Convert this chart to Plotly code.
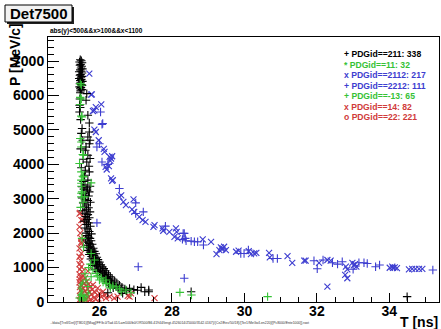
import plotly.graph_objects as go

# ---------------- data (T [ns], P [MeV/c]) ----------------
pip_T = [25.47,25.50,25.45,25.52,25.48,25.46,25.51,25.49,25.53,25.47,25.50,25.44,25.52,25.48,25.46,
         25.51,25.49,25.44,25.50,25.47,25.53,25.48,25.46,25.50,25.52,25.45,25.49,25.47,25.51,25.48,
         25.47,25.65,25.63,25.46,25.45,25.47,25.68,25.45,25.48,25.72,25.52,25.72,25.68,25.74,25.54,
         25.63,25.72,25.61,25.68,25.74,25.65,25.71,25.61,25.72,25.59,25.68,25.74,25.50,25.48,25.55,
         25.50,25.56,25.60,25.66,
         25.52,25.57,25.66,25.72,25.55,25.62,25.70,25.52,25.60,25.68,25.75,25.55,25.63,25.58,25.70,
         25.65,25.54,25.74,25.60,25.68,25.62,25.72,25.66,25.58,25.70,25.64,25.75,25.60,25.68,25.72,
         25.63,25.78,25.66,25.70,25.74,25.62,25.77,25.68,25.72,25.80,25.65,25.75,25.70,25.83,25.78,
         25.68,25.86,25.74,25.80,25.90,25.72,25.84,25.78,25.93,25.88,25.76,25.96,25.82,25.90,26.00,
         25.86,25.95,26.04,25.80,25.92,26.08,25.98,26.12,25.88,26.03,26.16,25.95,26.08,26.20,26.00,
         26.14,26.25,26.05,26.18,26.30,26.10,26.22,26.35,26.15,26.28,26.42,26.20,26.33,26.48,26.25,
         26.40,26.55,26.30,26.46,26.62,26.38,26.52,26.70,26.83,27.15,27.36,26.60,26.75,26.23,26.64,
         27.36,28.53,34.49,26.95,27.05,27.25]
pip_P = [7040,7010,6975,6950,6905,6880,6850,6800,6775,6745,6705,6690,6655,6610,6590,
         6555,6530,6495,6470,6435,6410,6385,6340,6320,6295,6250,6235,6195,6170,6135,
         6080,6055,5860,5900,5715,5650,5425,5520,5300,5200,5040,4940,4795,4700,4700,
         4505,4600,4410,4265,4170,4070,3945,3830,3780,3685,3540,3365,4900,4450,4150,
         3900,3500,3400,3320,
         3350,3280,3250,3200,3150,3100,3080,3020,2980,2950,2900,2880,2820,2760,2740,
         2680,2650,2620,2580,2540,2480,2450,2400,2350,2300,2250,2200,2150,2120,2050,
         2000,1980,1930,1880,1850,1800,1780,1740,1700,1680,1650,1620,1580,1560,1520,
         1500,1470,1450,1420,1400,1380,1350,1320,1300,1270,1250,1230,1200,1180,1160,
         1130,1100,1080,1060,1040,1020,990,970,950,930,910,890,870,850,830,
         810,790,770,750,730,710,690,670,650,630,610,590,570,550,530,
         510,490,470,450,430,410,395,380,395,425,350,350,330,270,250,
         300,300,155,360,340,300]

ele_T = [25.46,25.50,25.48,25.55,25.60,25.47,25.52,25.58,25.65,25.49,25.53,25.70]
ele_P = [80,160,240,120,60,400,320,200,150,500,560,260]

neu_T = [25.72,25.77,25.79,25.90,26.05,25.86,25.82,25.86,25.90,25.98,26.14,26.28,26.35,26.32,26.17,
         26.20,26.26,26.32,26.37,26.35,26.60,26.55,26.66,26.73,26.94,26.90,26.96,27.10,27.19,27.27,
         27.52,27.49,27.74,27.76,27.93,28.11,28.13,28.07,28.16,28.85,29.08,29.23,29.31,29.35,29.40,
         29.44,29.49,29.77,29.84,30.18,30.27,30.33,30.68,30.70,31.19,31.32,31.65,31.69,32.06,32.29,
         32.38,32.80,32.84,32.98,33.02,33.09,32.78,32.84,32.29,34.01,34.08,34.15,34.21,34.54,34.63,
         34.72,34.82,34.91,26.30,26.12,30.12,29.38,33.05,34.10]
neu_P = [6635,6025,6030,5665,5745,5570,5550,5010,4940,4700,4360,4215,4235,4170,3925,
         3850,3945,3590,3540,3520,3100,3055,2910,2815,2980,2690,2620,2475,2380,2330,
         2235,2185,2140,2070,2040,2140,2040,1895,1850,1820,1750,1390,1510,1585,1560,
         1605,1510,1460,1490,1390,1410,1430,1430,1295,1335,1140,1200,1200,1140,1220,
         1200,1025,950,1140,1065,1025,785,690,445,995,1025,1005,985,950,965,
         965,960,965,4100,4450,1480,1530,1100,990]

pro_T = [26.03,26.09,26.07,26.00,25.93,26.07,26.23,26.55,27.00,27.00,27.21,27.82,28.31,28.29,28.39,
         28.53,28.62,28.71,28.34,28.37,28.87,29.90,29.99,30.11,30.79,30.91,31.92,32.01,32.17,32.43,
         32.57,32.70,33.00,33.16,33.30,33.39,33.62,33.73,35.20,25.93,27.07,28.34]
pro_P = [5520,5185,5160,4600,4505,4070,4000,3300,2880,2570,2620,2205,1995,1820,1780,
         1770,1750,1750,1995,1850,1655,1410,1410,1510,1265,1265,1200,965,1220,1140,
         1100,1170,950,1140,1140,1120,1025,1075,930,2300,1025,690]

mup_T = [25.47,25.50,25.47,25.50,25.47,25.50,25.52,25.47,25.50,25.50,25.54,25.56,25.45,25.50,25.54,
         25.56,25.50,25.77,25.50,25.52,25.50,25.50,25.59,25.50,25.55,25.48,25.52,25.56,25.77,25.86,
         25.82,25.91,25.63,25.77,26.00,26.18,26.18,26.28,26.37,26.46,26.73,26.60,26.87,28.22,28.54,
         30.64,25.45,25.70,25.95,26.10,25.60,26.05,25.75,26.30,26.55,25.50,25.55,25.68]
mup_P = [6345,6300,5945,5900,5740,5400,5375,4750,4650,4505,4285,4265,4025,3780,3655,
         3635,3540,3460,3365,3200,3450,3160,3055,3055,2900,2750,1850,1600,1410,1220,
         930,830,640,735,640,640,540,495,465,445,350,300,270,280,205,
         155,115,1000,760,580,820,700,1100,410,380,200,60,450]

nu_T = [25.47,25.45,25.54,25.50,25.45,25.50,25.50,25.45,25.50,25.45,25.48,25.45,25.50,25.46,25.52,
        25.45,25.55,25.48,25.60,25.46,25.52,25.65,25.45,25.58,25.70,25.50,25.62,25.75,25.46,25.55,
        25.68,25.80,25.48,25.60,25.72,25.88,25.52,25.65,25.78,25.95,25.46,25.58,25.70,25.85,26.05,
        25.50,25.62,25.75,25.90,26.18,26.28,26.41,26.50,26.83,26.78,26.87,27.52,25.45,25.55,26.00,
        26.10,25.95,25.82,26.15,25.68,25.50,25.47]
nu_P = [2590,2570,2380,2380,2185,1750,1700,1555,1410,1315,1200,1100,1020,950,880,
        800,760,720,690,650,620,600,570,540,520,500,470,450,430,400,
        380,360,340,320,300,280,260,240,220,200,180,160,140,130,150,
        100,80,70,90,110,155,110,155,155,175,250,110,60,40,250,
        300,400,500,200,900,1850,2000]

gam_T = [25.45,25.48,25.52,25.56,25.60,25.66,25.72,25.80,25.90,26.00]
gam_P = [20,35,15,30,25,40,20,30,15,25]

legend_lines = ["+ PDGid==211: 338", "* PDGid==11: 32", "x PDGid==2112: 217",
                "+ PDGid==2212: 111", "+ PDGid==-13: 65", "x PDGid==14: 82", "o PDGid==22: 221"]

BLACK, GREEN, BLUE, RED = "#000000", "#35c235", "#3d3dd0", "#d03a3a"
legend_colors = [BLACK, GREEN, BLUE, BLUE, GREEN, RED, RED]

W, H = 441, 329
ML, MR, MT, MB = 48, 2, 37, 27
PW, PH = W - ML - MR, H - MT - MB


def px(x):
    return (x - ML) / PW


def py(y):
    return (H - MB - y) / PH


fig = go.Figure()


def add(T, P, sym, color, size=6, lw=1.1):
    fig.add_trace(go.Scatter(x=T, y=P, mode="markers", showlegend=False, hoverinfo="skip",
                             marker=dict(symbol=sym, size=size, color=color,
                                         line=dict(color=color, width=lw))))


add(gam_T, gam_P, "circle-open", RED, 3, 0.8)
add(nu_T, nu_P, "x-thin-open", RED)
add(ele_T, ele_P, "asterisk-open", GREEN, 4, 0.8)
add(neu_T, neu_P, "x-thin-open", BLUE)
add(pro_T, pro_P, "cross-thin-open", BLUE)
add(pip_T, pip_P, "cross-thin-open", BLACK)
add(mup_T, mup_P, "cross-thin-open", GREEN)

tickfont = dict(family="Liberation Sans", size=14, color="black", weight="bold")
fig.update_xaxes(range=[24.58, 35.37], dtick=2, tick0=0, ticks="inside", ticklen=9,
                 tickcolor="black", showline=True, linecolor="black", linewidth=1, mirror=True,
                 showgrid=False, zeroline=False, tickfont=tickfont, ticklabelstandoff=-4,
                 minor=dict(dtick=0.5, tick0=0, ticks="inside", ticklen=5, tickcolor="black"))
fig.update_yaxes(range=[0, 7700], dtick=1000, ticks="inside", ticklen=11,
                 tickcolor="black", showline=True, linecolor="black", linewidth=1, mirror=True,
                 showgrid=False, zeroline=False, tickfont=tickfont,
                 minor=dict(dtick=200, ticks="inside", ticklen=6, tickcolor="black"))

annots = []
for i, (txt, col) in enumerate(zip(legend_lines, legend_colors)):
    annots.append(dict(x=px(342), y=py(54.3 + i * 10.45), xref="paper", yref="paper",
                       text=txt, showarrow=False, xanchor="left", yanchor="middle",
                       font=dict(family="Liberation Sans", size=8.6, color=col, weight="bold")))

annots += [
    dict(x=px(39), y=py(13.5), xref="paper", yref="paper", text="Det7500", showarrow=False,
         xanchor="center", yanchor="middle",
         font=dict(family="Liberation Sans", size=15, color="black", weight="bold")),
    dict(x=px(48), y=py(31.5), xref="paper", yref="paper", text="abs(y)<500&&x>100&&x<1100",
         showarrow=False, xanchor="left", yanchor="middle",
         font=dict(family="Liberation Sans", size=6.5, color="black", weight="bold")),
    dict(x=px(15), y=py(55), xref="paper", yref="paper", text="P [MeV/c]", textangle=-90,
         showarrow=False, xanchor="center", yanchor="middle",
         font=dict(family="Liberation Sans", size=14, color="black", weight="bold")),
    dict(x=px(419), y=py(322), xref="paper", yref="paper", text="T [ns]",
         showarrow=False, xanchor="center", yanchor="middle",
         font=dict(family="Liberation Sans", size=14, color="black", weight="bold")),
    dict(x=px(48), y=py(323), xref="paper", yref="paper",
         text="../data/[Trell/Det]/[TBD1]/[Mag]/FF/b.0/Tad.01/Lam500/b0/OR500/B6.41944/lengt.4526014/Z5000/3542.0167}/{Ce2/Eev/50/18}/[Ter1/MeGo/Len220]/[Pc8000/Ente1000]].root",
         showarrow=False, xanchor="left", yanchor="middle",
         font=dict(family="Liberation Sans", size=3.4, color="#333333")),
]

shapes = [
    dict(type="rect", xref="paper", yref="paper", x0=px(7), x1=px(74), y0=py(7), y1=py(24),
         fillcolor="#202020", line=dict(width=0), layer="above"),
    dict(type="rect", xref="paper", yref="paper", x0=px(5), x1=px(72), y0=py(5), y1=py(22),
         fillcolor="#f2f2f2", line=dict(color="black", width=1), layer="above"),
]

fig.update_layout(width=W, height=H, autosize=False,
                  margin=dict(l=ML, r=MR, t=MT, b=MB, pad=0),
                  paper_bgcolor="white", plot_bgcolor="white",
                  annotations=annots, shapes=shapes)

fig.write_html("out.html", config={"displayModeBar": False},
               post_script="document.body.style.margin='0';document.body.style.overflow='hidden';")
